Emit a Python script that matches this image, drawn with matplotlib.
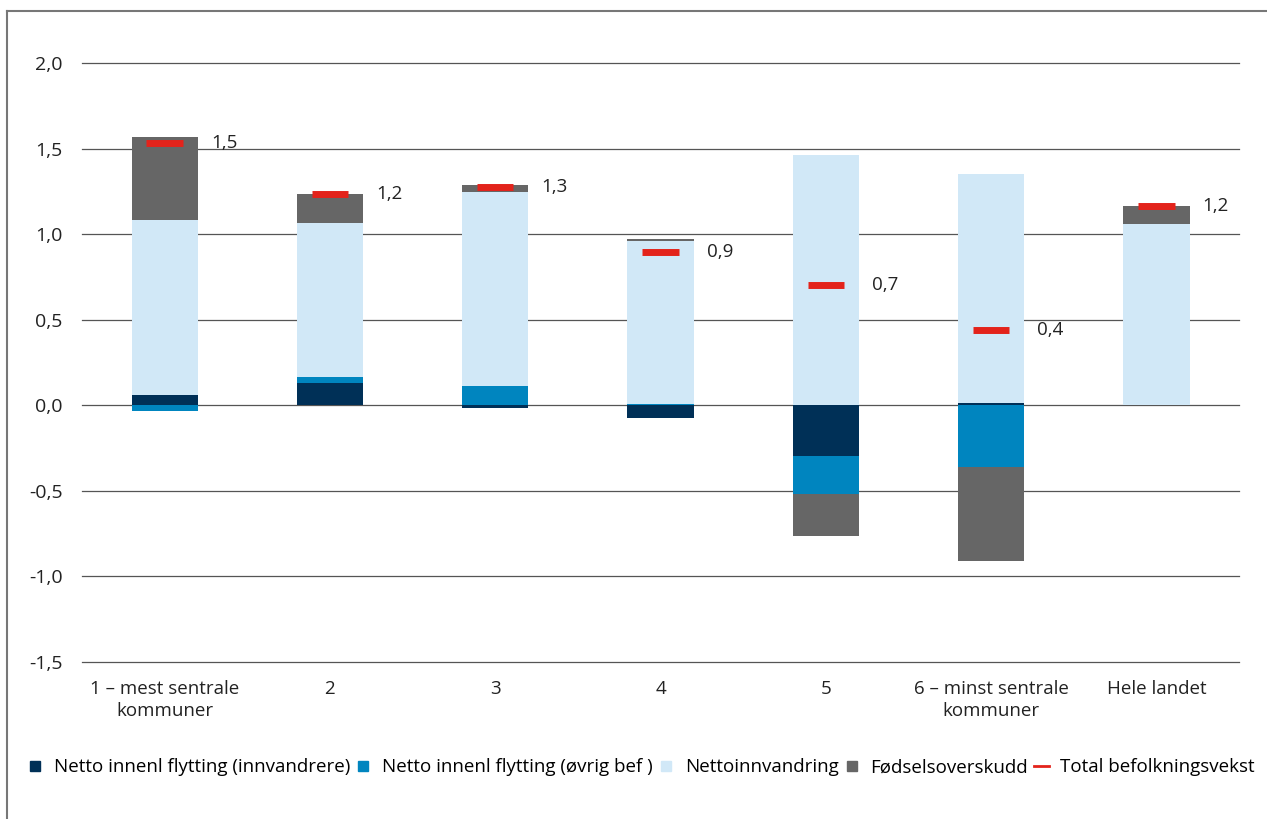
import numpy as np
import matplotlib.pyplot as plt
from matplotlib.lines import Line2D

plt.rcParams['font.family'] = ['Open Sans', 'DejaVu Sans']

categories = ['1 – mest sentrale\nkommuner', '2', '3', '4', '5',
              '6 – minst sentrale\nkommuner', 'Hele landet']

# Komponenter av befolkningsveksten (prosent)
innvandrere = [0.06, 0.128, -0.015, -0.074, -0.297, 0.013, 0.0]
ovrig_bef = [-0.035, 0.035, 0.113, 0.010, -0.224, -0.360, 0.0]
nettoinnvandring = [1.020, 0.904, 1.135, 0.952, 1.464, 1.336, 1.059]
fodselsoverskudd = [0.490, 0.169, 0.042, 0.008, -0.241, -0.548, 0.105]
total = [1.535, 1.236, 1.275, 0.896, 0.702, 0.441, 1.164]

series = [
    ('Netto innenl flytting (innvandrere)', innvandrere, '#003057'),
    ('Netto innenl flytting (øvrig bef )', ovrig_bef, '#0085BF'),
    ('Nettoinnvandring', nettoinnvandring, '#D1E8F7'),
    ('Fødselsoverskudd', fodselsoverskudd, '#666666'),
]
red = '#E3231B'
txt = '#222222'

fig = plt.figure(figsize=(12.67, 8.19), dpi=100)
ax = fig.add_axes([0.0647, 0.1917, 0.9133, 0.7313])

x = np.arange(len(categories))
width = 0.4
pos_bottom = np.zeros(len(categories))
neg_bottom = np.zeros(len(categories))

for label, vals, color in series:
    vals = np.array(vals)
    bottom = np.where(vals >= 0, pos_bottom, neg_bottom)
    ax.bar(x, vals, width, bottom=bottom, color=color, zorder=3)
    pos_bottom += np.where(vals >= 0, vals, 0)
    neg_bottom += np.where(vals < 0, vals, 0)

ax.hlines(total, x - 0.11, x + 0.11, color=red, lw=5, zorder=4)
for xi, t in zip(x, total):
    ax.text(xi + width / 2 + 0.08, t, f'{t:.1f}'.replace('.', ','),
            fontsize=13.5, va='center', ha='left', color=txt)

yticks = np.arange(-1.5, 2.01, 0.5)
for yv in yticks:
    ax.axhline(yv, color='#555555', lw=0.9, zorder=1, clip_on=False)

ax.set_xlim(-0.5, len(categories) - 0.5)
ax.set_ylim(-1.5, 2.0)
ax.set_yticks(yticks)
ax.set_yticklabels([f'{v:.1f}'.replace('.', ',') for v in yticks])
ax.set_xticks(x)
ax.set_xticklabels(categories, linespacing=1.3)
ax.tick_params(axis='both', length=0, colors=txt)
ax.tick_params(axis='y', pad=14, labelsize=14)
ax.tick_params(axis='x', pad=13, labelsize=13.5)
for s in ax.spines.values():
    s.set_visible(False)

handles = [Line2D([], [], marker='s', ls='none', color=c, markersize=6.5)
           for _, _, c in series]
handles.append(Line2D([], [], color=red, lw=2))
labels = [s[0] for s in series] + ['Total befolkningsvekst']
fig.legend(handles, labels, loc='center', bbox_to_anchor=(0.506, 0.063),
           ncol=5, frameon=False, fontsize=13.5, handlelength=0.8,
           handletextpad=0.6, columnspacing=0.3)

# ramme
fig.add_artist(Line2D([0.0055, 0.0055], [0, 0.9866], color='#777777', lw=1.5))
fig.add_artist(Line2D([0.0055, 1.0], [0.9866, 0.9866], color='#777777', lw=1.5))

fig.savefig('out.png', dpi=100)
